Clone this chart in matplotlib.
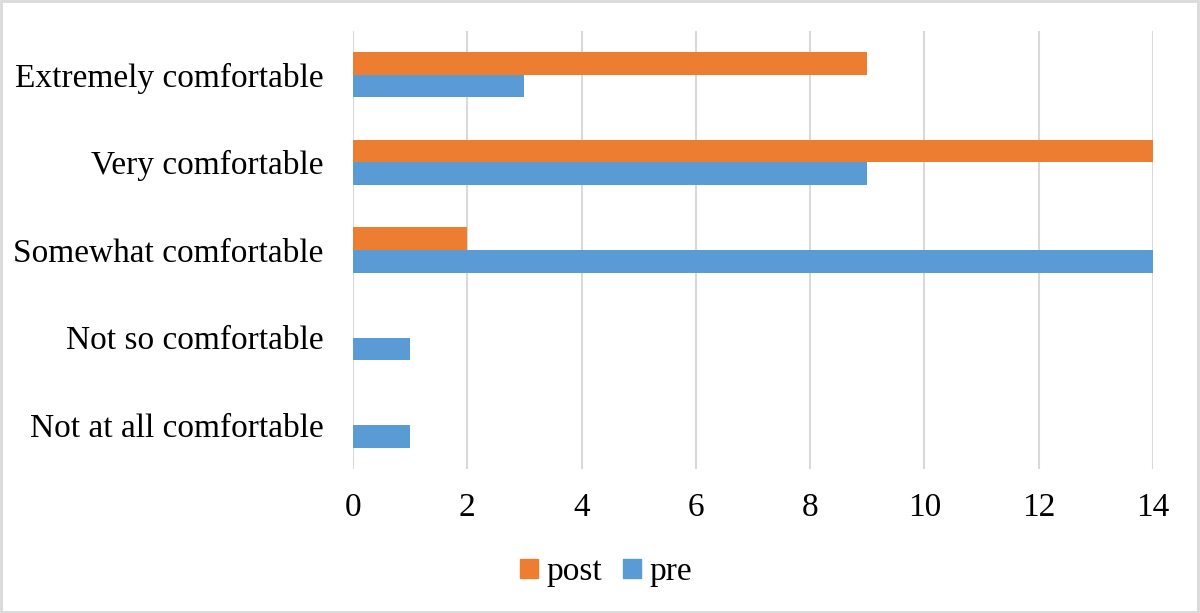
import matplotlib.pyplot as plt
from matplotlib.patches import Patch
import numpy as np

# Data
categories = ["Not at all comfortable", "Not so comfortable", "Somewhat comfortable",
              "Very comfortable", "Extremely comfortable"]
pre = [1, 1, 14, 9, 3]
post = [0, 0, 2, 14, 9]
x_ticks = [0, 2, 4, 6, 8, 10, 12, 14]

ORANGE = "#ED7D31"
BLUE = "#5B9BD5"
GRID = "#D9D9D9"

plt.rcParams["font.family"] = ["Liberation Serif", "DejaVu Serif"]

fig = plt.figure(figsize=(12, 6.13), dpi=100)
ax = fig.add_axes([0.2942, 0.2349, 0.6666, 0.7145])

y = np.arange(len(categories))
h = 0.257
ax.barh(y - h / 2, pre, height=h, color=BLUE, zorder=3)
ax.barh(y + h / 2, post, height=h, color=ORANGE, zorder=3)

ax.set_xlim(0, 14)
ax.set_ylim(-0.5, len(categories) - 0.5)
ax.set_xticks(x_ticks)
ax.set_yticks(y)
ax.set_yticklabels(categories)
ax.tick_params(axis="both", length=0, labelsize=24)
ax.tick_params(axis="x", pad=17)
ax.tick_params(axis="y", pad=21)
ax.grid(axis="x", color=GRID, linewidth=1.5, zorder=0)
for s in ax.spines.values():
    s.set_visible(False)

handles = [Patch(color=ORANGE, label="post"), Patch(color=BLUE, label="pre")]
fig.legend(handles=handles, loc="center", bbox_to_anchor=(0.505, 0.067), ncol=2,
           frameon=False, fontsize=24, handlelength=0.52, handleheight=0.52,
           handletextpad=0.25, columnspacing=0.65)

# outer border
fig.patches.append(plt.Rectangle((0.001, 0.002), 0.997, 0.996, transform=fig.transFigure,
                                 fill=False, edgecolor="#D9D9D9", linewidth=2))

fig.savefig("out.png", dpi=100)
